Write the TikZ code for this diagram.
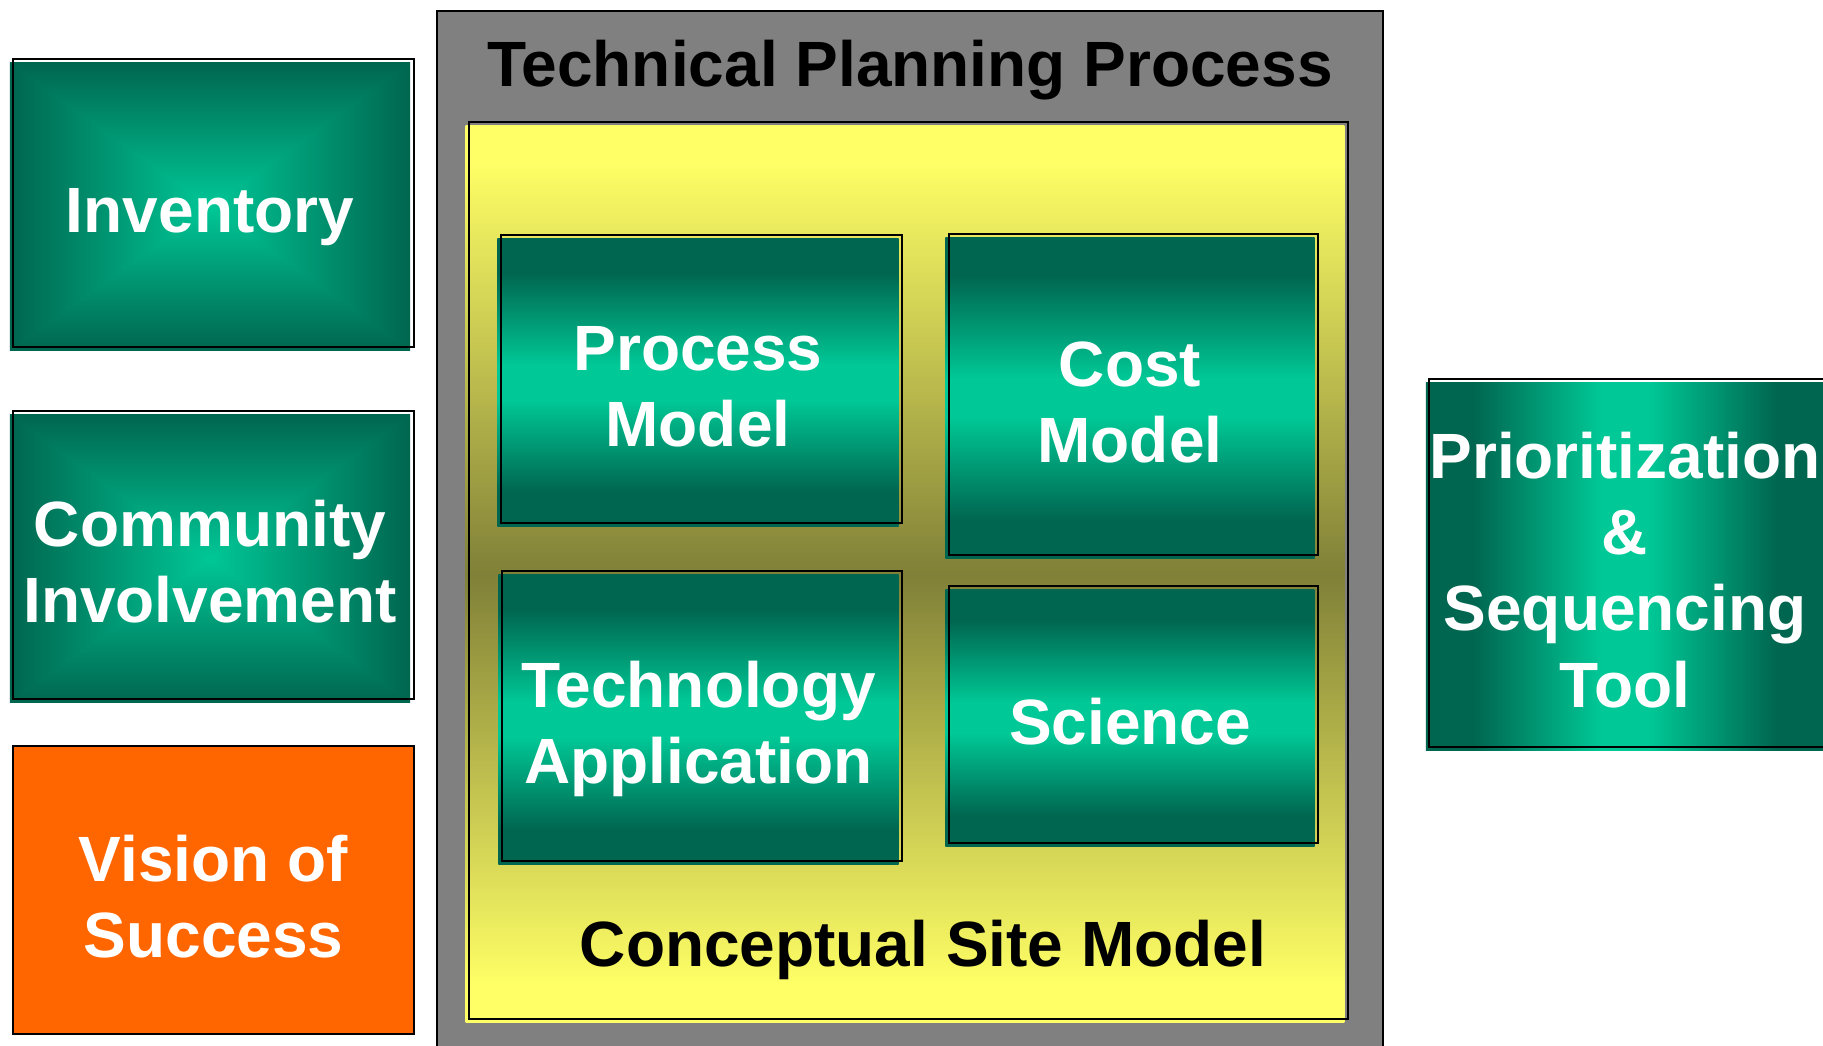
\documentclass[tikz,border=0pt]{standalone}
\usepackage{fontspec}
\setmainfont{Liberation Sans}
\usepackage{tikz}

\definecolor{gdark}{RGB}{0,102,80}
\definecolor{glight}{RGB}{0,200,150}
\definecolor{csmyellow}{RGB}{255,255,102}
\definecolor{csmolive}{RGB}{128,128,56}
\definecolor{tppgray}{RGB}{128,128,128}
\definecolor{visionorange}{RGB}{255,102,0}

\pgfdeclareverticalshading{bandgreen}{100bp}{color(0bp)=(gdark); color(31bp)=(gdark);
  color(47bp)=(glight); color(53bp)=(glight); color(69bp)=(gdark); color(100bp)=(gdark)}
\pgfdeclareverticalshading{bandyellow}{100bp}{color(0bp)=(csmyellow); color(27bp)=(csmyellow);
  color(50bp)=(csmolive); color(73bp)=(csmyellow); color(100bp)=(csmyellow)}
\pgfdeclarefunctionalshading{glowgreen}{\pgfpoint{-50bp}{-50bp}}{\pgfpoint{50bp}{50bp}}{}{
  abs exch abs 2 copy lt {exch} if pop 25 div dup 1 gt {pop 1} if
  dup -0.38 mul 0.78 add exch -0.28 mul 0.59 add 0 3 1 roll}

\begin{document}
\begin{tikzpicture}[x=0.01cm, y=-0.01cm,
                    every node/.style={font=\bfseries\fontsize{18.2}{21.7}\selectfont,
                                       align=center, inner sep=0pt, outer sep=0pt},
                    boxtext/.style={text=white, text depth=0pt,
                                    execute at begin node={\rule{0pt}{#1}}},
                    greenbox/.style={boxtext=#1, shade, shading=bandgreen},
                    greenbox/.default=14.9pt,
                    glowbox/.style={boxtext=#1, shade, shading=glowgreen},
                    glowbox/.default=14.9pt,
                    orangebox/.style={boxtext=#1, fill=visionorange, draw=black, line width=0.6pt},
                    graybox/.style={fill=tppgray, draw=black, line width=0.6pt},
                    yellowbox/.style={shade, shading=bandyellow}]
   %\draw[help lines] (0,0) grid[step=100] (1823,1046);
   \useasboundingbox (0,0) rectangle (1823,1046);

   % left column
   \node[glowbox, minimum width=4cm, minimum height=2.87cm] (inventory) at (210,206.5) {Inventory};
   \node[glowbox=36.6pt, minimum width=4cm, minimum height=2.87cm] (community) at (210,558.5) {Community\\Involvement};
   \node[orangebox=38.4pt, minimum width=4.01cm, minimum height=2.88cm] (vision) at (213.5,890) {Vision of\\Success};

   % technical planning process
   \node[graybox, minimum width=9.46cm, minimum height=10.49cm] (tpp) at (910,535.5) {};
   \node[anchor=base] (tpptitle) at (910,86.7) {Technical Planning Process};
   \node[yellowbox, minimum width=8.78cm, minimum height=8.96cm] (csm) at (905,574) {};
   \node[greenbox=36.6pt, minimum width=4.01cm, minimum height=2.88cm] (process) at (698,382.5) {Process\\Model};
   \node[greenbox=36.6pt, minimum width=3.69cm, minimum height=3.21cm] (cost) at (1130,398) {Cost\\Model};
   \node[greenbox=36.6pt, minimum width=4cm, minimum height=2.9cm] (techapp) at (698.5,719.5) {Technology\\Application};
   \node[greenbox, minimum width=3.69cm, minimum height=2.57cm] (science) at (1130,718) {Science};
   \node[anchor=base] (csmtitle) at (923,966) {Conceptual Site Model};

   % right column
   \node[greenbox=80pt, shading angle=90, minimum width=3.98cm, minimum height=3.67cm] (prio) at (1625,566.5)
        {Prioritization\\\&\\Sequencing\\Tool};

   % offset outlines
   \foreach \nd in {inventory,community,csm,process,cost,techapp,science,prio}
      \draw[line width=0.6pt] ([shift={(3.5,-3.5)}]\nd.north west) rectangle ([shift={(3.5,-3.5)}]\nd.south east);

\end{tikzpicture}
\end{document}
